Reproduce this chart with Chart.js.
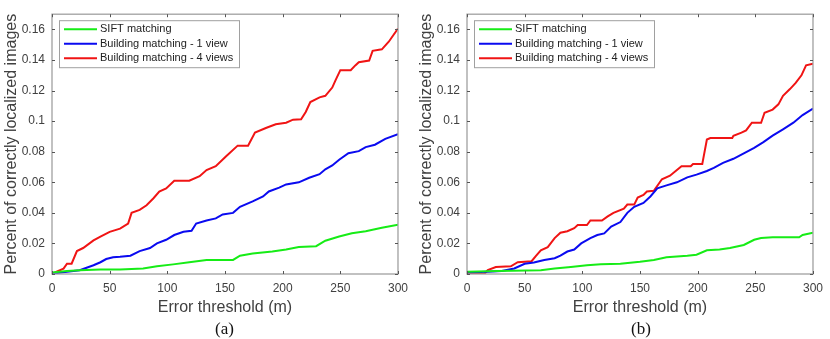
<!DOCTYPE html>
<html>
<head>
<meta charset="utf-8">
<script src="https://cdn.jsdelivr.net/npm/chart.js@4"></script>
<style>
  body { margin: 0; background: #fff; }
  #wrap { position: relative; width: 830px; height: 339px; }
  .panel { position: absolute; top: 0; width: 415px; height: 339px; }
  .cap { position: absolute; top: 319px; font: 17px "Liberation Serif", "Times New Roman", serif; color: #111; }
</style>
</head>
<body>
<div id="wrap">
  <div class="panel" style="left:0"><canvas id="chartA" width="415" height="339"></canvas></div>
  <div class="panel" style="left:415px"><canvas id="chartB" width="415" height="339"></canvas></div>
  <div class="cap" style="left:215px">(a)</div>
  <div class="cap" style="left:631px">(b)</div>
</div>
<script>
const seriesNames = ["SIFT matching", "Building matching - 1 view", "Building matching - 4 views"];
const seriesColors = ["#16ec16", "#0a0af0", "#f01414"];
const yTicks = [0, 0.02, 0.04, 0.06, 0.08, 0.1, 0.12, 0.14, 0.16];
const xTicks = [0, 50, 100, 150, 200, 250, 300];

// panel (a): [x, y] pairs
const siftA = [[0,0.001],[13,0.002],[24,0.0025],[42,0.003],[59,0.003],[79,0.0036],[91,0.005],[105,0.0063],[119,0.0077],[134,0.0092],[157,0.0092],[163,0.012],[174,0.0134],[191,0.0147],[203,0.016],[214,0.0176],[229,0.0182],[237,0.0218],[249,0.0245],[260,0.0266],[272,0.028],[286,0.0302],[300,0.0322]];
const oneViewA = [[0,0.0002],[13,0.0015],[24,0.0025],[36,0.0057],[42,0.0077],[47,0.0098],[53,0.011],[59,0.0113],[68,0.012],[76,0.015],[85,0.017],[91,0.02],[99,0.0224],[106,0.0255],[114,0.0276],[121,0.0283],[125,0.033],[134,0.035],[142,0.0364],[148,0.039],[157,0.04],[163,0.044],[174,0.0475],[183,0.0507],[188,0.054],[197,0.0565],[203,0.0586],[214,0.06],[223,0.063],[232,0.0653],[237,0.0685],[243,0.071],[249,0.0748],[257,0.079],[266,0.0804],[272,0.083],[280,0.0846],[289,0.0884],[300,0.0915]];
const fourViewsA = [[0,0],[4,0.0015],[10,0.0035],[13,0.0067],[17,0.0067],[21.6,0.015],[27,0.017],[36,0.022],[42,0.0245],[50,0.0276],[59,0.0297],[66,0.033],[69,0.04],[76,0.042],[82,0.045],[88,0.0496],[93,0.054],[99,0.056],[106,0.061],[119,0.061],[128,0.064],[134,0.068],[142,0.0705],[151,0.077],[161,0.084],[170,0.084],[176,0.0925],[186,0.0957],[194,0.098],[203,0.099],[209,0.101],[216,0.1013],[220,0.106],[224,0.1125],[232,0.1156],[237,0.1166],[243,0.122],[246,0.127],[250,0.1334],[259,0.1334],[263,0.1365],[266,0.1386],[275,0.1397],[278,0.146],[286,0.147],[292,0.152],[300,0.1606]];

// panel (b)
const siftB = [[0,0.0015],[27,0.002],[64,0.0025],[76,0.0036],[90,0.0046],[104,0.0057],[116,0.0063],[133,0.0067],[150,0.008],[162,0.0092],[173,0.011],[191,0.012],[199,0.0126],[208,0.0155],[219,0.016],[228,0.017],[240,0.019],[249,0.0224],[255,0.0235],[265,0.024],[288,0.024],[291,0.0255],[300,0.027]];
const oneViewB = [[0,0.001],[18,0.0015],[30,0.002],[41,0.0036],[50,0.0067],[58,0.0075],[67,0.0092],[76,0.0103],[81,0.012],[87,0.0147],[93,0.016],[99,0.02],[107,0.0235],[113,0.0255],[119,0.0266],[125,0.031],[133,0.034],[139,0.04],[145,0.044],[153,0.0465],[159,0.0507],[165,0.056],[173,0.058],[182,0.06],[191,0.0632],[199,0.065],[208,0.0674],[214,0.0695],[222,0.0727],[231,0.0754],[240,0.079],[249,0.0825],[257,0.0863],[265,0.0905],[274,0.0947],[283,0.099],[291,0.104],[300,0.1083]];
const fourViewsB = [[0,0],[15,0],[18,0.0025],[25,0.0046],[38,0.005],[44,0.0077],[56,0.0084],[60,0.012],[64,0.0155],[70,0.0176],[76,0.0235],[81,0.027],[87,0.028],[93,0.03],[96,0.032],[104,0.032],[107,0.035],[117,0.035],[122,0.0377],[127,0.04],[136,0.0427],[139,0.0454],[145,0.0454],[148,0.05],[153,0.0517],[156,0.054],[162,0.0545],[169,0.062],[176,0.0643],[182,0.068],[186,0.0705],[194,0.0705],[196,0.072],[204,0.072],[205,0.076],[208,0.088],[211,0.089],[230,0.089],[231,0.0905],[238,0.0925],[242,0.094],[247,0.099],[255,0.099],[258,0.1055],[265,0.1076],[270,0.111],[274,0.1166],[280,0.121],[285,0.125],[290,0.13],[294,0.1365],[300,0.1376]];

const axisGray = "#a0a0a0";
const textGray = "#404040";

// box, inward ticks and legend drawn like a matlab axes
const frame = {
  id: "frame",
  afterDatasetsDraw(chart) {
    const ctx = chart.ctx;
    const a = chart.chartArea;
    const xs = chart.scales.x, ys = chart.scales.y;
    ctx.save();
    ctx.strokeStyle = axisGray;
    ctx.lineWidth = 1.3;
    ctx.strokeRect(a.left, a.top, a.right - a.left, a.bottom - a.top);
    ctx.strokeStyle = "#555";
    ctx.lineWidth = 1;
    ctx.beginPath();
    xTicks.forEach(v => {
      const px = Math.round(xs.getPixelForValue(v)) + 0.5;
      ctx.moveTo(px, a.bottom); ctx.lineTo(px, a.bottom - 3);
      ctx.moveTo(px, a.top); ctx.lineTo(px, a.top + 3);
    });
    yTicks.forEach(v => {
      const py = Math.round(ys.getPixelForValue(v)) + 0.5;
      ctx.moveTo(a.left, py); ctx.lineTo(a.left + 3, py);
      ctx.moveTo(a.right, py); ctx.lineTo(a.right - 3, py);
    });
    ctx.stroke();

    // legend
    const lx = a.left + 7, ly = a.top + 6;
    ctx.fillStyle = "#fff";
    ctx.fillRect(lx, ly, 180, 47);
    ctx.strokeStyle = axisGray;
    ctx.lineWidth = 1;
    ctx.strokeRect(lx + 0.5, ly + 0.5, 180, 47);
    ctx.font = "11px 'Liberation Sans', Arial, sans-serif";
    ctx.textBaseline = "middle";
    chart.data.datasets.forEach((ds, i) => {
      const y = ly + 9 + i * 14.5;
      ctx.strokeStyle = ds.borderColor;
      ctx.lineWidth = 2;
      ctx.beginPath();
      ctx.moveTo(lx + 5, y); ctx.lineTo(lx + 38, y);
      ctx.stroke();
      ctx.fillStyle = "#222";
      ctx.fillText(ds.label, lx + 41, y);
    });
    ctx.restore();
  }
};

function toPoints(pairs) {
  return pairs.map(p => ({ x: p[0], y: p[1] }));
}

function makeChart(id, sets, rightPad) {
  const ctx = document.getElementById(id).getContext("2d");
  return new Chart(ctx, {
    type: "line",
    data: {
      datasets: sets.map((s, i) => ({
        label: seriesNames[i],
        data: toPoints(s),
        borderColor: seriesColors[i],
        borderWidth: 2,
        pointRadius: 0,
        tension: 0,
        fill: false
      }))
    },
    options: {
      responsive: false,
      animation: false,
      layout: { padding: { left: 0, right: rightPad, top: 4, bottom: 0 } },
      plugins: { legend: { display: false }, tooltip: { enabled: false } },
      scales: {
        x: {
          type: "linear",
          min: 0, max: 300,
          afterBuildTicks: sc => { sc.ticks = xTicks.map(v => ({ value: v })); },
          afterFit: sc => { sc.height = 65; },
          grid: { display: false, drawTicks: false },
          border: { display: false },
          ticks: { padding: 7, color: textGray, font: { size: 12, family: "'Liberation Sans', Arial, sans-serif" }, maxRotation: 0 },
          title: { display: true, text: "Error threshold (m)", color: textGray, padding: { top: 0, bottom: 22 }, font: { size: 16, family: "'Liberation Sans', Arial, sans-serif" } }
        },
        y: {
          min: 0, max: 0.17,
          afterBuildTicks: sc => { sc.ticks = yTicks.map(v => ({ value: v })); },
          afterFit: sc => { sc.width = 52; },
          grid: { display: false, drawTicks: false },
          border: { display: false },
          ticks: { padding: 7, color: textGray, font: { size: 12, family: "'Liberation Sans', Arial, sans-serif" }, callback: v => String(+v.toFixed(2)) },
          title: { display: true, text: "Percent of correctly localized images", color: textGray, padding: { top: 2, bottom: 0 }, font: { size: 16, family: "'Liberation Sans', Arial, sans-serif" } }
        }
      }
    },
    plugins: [frame]
  });
}

makeChart("chartA", [siftA, oneViewA, fourViewsA], 16);
makeChart("chartB", [siftB, oneViewB, fourViewsB], 15);
</script>
</body>
</html>
